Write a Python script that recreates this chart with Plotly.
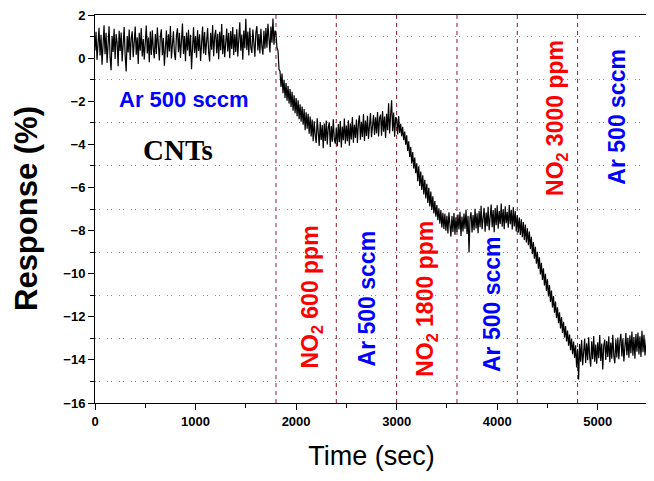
"""CNT gas sensor response to NO2 pulses in Ar carrier (recreated with Plotly)."""

import plotly.graph_objects as go

SAMPLE_STEP = 10  # sec between samples

# Response (%), one value per 10 sec, grouped by gas phase
AR_BASELINE = [
    0.35, 1.22, -0.08, 0.94, 1.41, 0.12, 1.08, -0.31, 0.77, 1.52,
    0.18, 1.17, -0.22, 0.63, 1.48, 0.05, -0.56, 1.03, 0.29, 1.36,
    -0.04, 1.11, 0.72, -0.38, 1.27, 0.33, 1.19, -0.15, 0.86, 1.44,
    0.11, -0.62, 1.02, 0.26, 1.33, -0.09, 0.91, 1.24, 0.04, 1.09,
    1.46, 0.16, 0.97, -0.27, 1.18, 0.34, 1.39, 0.08, 0.88, -0.06,
    1.07, 1.51, 0.21, 0.95, -0.19, 1.23, 0.14, 1.29, 0.42, -0.01,
    1.12, 0.19, 1.42, 0.48, -0.11, 1.01, 1.34, 0.13, 0.93, -0.35,
    0.87, 1.28, 0.03, 1.11, 0.31, 1.49, -0.02, 0.98, 1.25, 0.22,
    -0.09, 1.06, 1.38, 0.27, 1.17, 0.01, 0.92, 1.61, 0.19, 1.02,
    -0.14, 1.19, 0.36, 1.32, 0.09, 1.08, -0.52, 0.87, 1.43, 0.24,
    1.03, 0.02, 1.29, 0.33, 1.11, -0.13, 0.96, 1.47, 0.21, 1.21,
    0.14, 1.06, 1.39, 0.29, -0.16, 1.17, 0.39, 1.52, 0.09, 0.99,
    1.31, 0.23, 1.13, -0.05, 1.22, 0.36, 1.58, 0.18, 1.07, 0.04,
    0.96, 1.37, 0.31, 1.18, -0.01, 1.26, 0.42, 1.44, 0.15, 1.11,
    0.29, 1.34, 0.08, 1.21, 1.66, 0.34, 1.09, -0.07, 1.28, 0.46,
    1.82, 0.38, 1.23, 0.12, 1.41, 0.49, 0.24, 1.33, 0.59, 0.06,
    1.19, 1.48, 0.35, 1.12, 0.21, 1.36, 0.53, 0.16, 1.27, 0.43,
    1.39, 0.48, 1.59, 0.59, 0.26, 1.46, 0.71, 1.84, 0.62, 1.28,
]
NO2_600 = [
    1.12, 0.48, 0.36, -0.52, -0.61, -1.34, -0.71, -1.63, -1.01, -1.85,
    -1.16, -1.98, -1.29, -2.11, -1.43, -2.27, -1.56, -2.44, -1.72, -2.56,
    -1.85, -2.69, -1.96, -2.84, -2.14, -2.95, -2.25, -3.09, -2.36, -3.34,
    -2.51, -3.28, -2.58, -3.51, -2.71, -3.64, -2.85, -3.85, -2.93, -3.58,
    -3.94, -2.79, -3.69, -4.07, -2.96, -3.80, -3.10, -4.18, -3.03, -3.84,
    -2.89, -4.01, -3.21, -2.98, -4.12, -3.15, -3.88, -2.84, -3.75, -3.97,
]
AR_PURGE_1 = [
    -3.25, -4.09, -3.06, -3.90, -2.92, -4.15, -3.18, -3.81, -2.80, -3.97,
    -3.13, -3.85, -2.88, -4.06, -3.04, -3.77, -2.73, -3.92, -3.09, -3.70,
    -2.85, -3.94, -3.01, -2.66, -3.79, -2.95, -3.66, -2.59, -3.84, -2.90,
    -3.61, -2.68, -3.75, -2.83, -2.55, -3.67, -2.94, -2.64, -3.56, -2.75,
    -3.49, -2.50, -3.64, -2.79, -2.62, -3.60, -2.46, -3.42, -2.71, -3.71,
    -2.58, -3.35, -2.09, -3.50, -2.65, -1.96, -3.39, -2.53, -3.65, -2.74,
]
NO2_1800 = [
    -2.82, -3.54, -2.69, -3.47, -3.05, -3.62, -3.19, -3.81, -3.41, -4.02,
    -3.58, -4.31, -3.86, -4.58, -4.12, -4.89, -4.36, -5.12, -4.61, -5.34,
    -4.88, -5.71, -5.02, -5.93, -5.26, -6.12, -5.44, -6.33, -5.65, -6.51,
    -5.83, -6.72, -6.02, -6.88, -6.19, -7.05, -6.41, -7.21, -6.63, -7.36,
    -6.82, -7.52, -6.97, -7.68, -7.05, -7.86, -7.18, -7.93, -7.22, -8.01,
    -7.31, -8.14, -7.15, -7.97, -8.28, -7.33, -8.06, -7.19, -8.19, -7.38,
]
AR_PURGE_2 = [
    -8.07, -7.26, -7.95, -7.13, -8.25, -7.35, -8.04, -7.21, -7.92, -7.04,
    -8.16, -7.32, -9.02, -7.41, -7.15, -8.09, -7.28, -7.98, -6.99, -7.90,
    -7.20, -8.12, -7.08, -7.85, -6.85, -7.94, -7.23, -6.95, -8.05, -7.16,
    -7.80, -6.90, -7.99, -7.11, -6.79, -7.84, -7.05, -8.08, -6.96, -7.75,
    -6.83, -7.91, -7.09, -7.70, -6.75, -7.82, -7.01, -7.94, -6.88, -7.66,
    -7.13, -7.87, -6.82, -7.71, -7.04, -7.95, -6.92, -7.81, -7.10, -8.04,
]
NO2_3000 = [
    -7.29, -8.09, -7.40, -8.20, -7.48, -8.31, -7.61, -8.44, -7.72, -8.55,
    -7.89, -8.68, -8.05, -8.86, -8.29, -9.10, -8.53, -9.31, -8.75, -9.54,
    -8.99, -9.77, -9.24, -10.04, -9.50, -10.29, -9.75, -10.55, -10.01, -10.80,
    -10.26, -11.06, -10.53, -11.31, -10.78, -11.57, -11.04, -11.81, -11.29, -12.06,
    -11.56, -12.30, -11.79, -12.54, -12.01, -12.75, -12.23, -12.96, -12.43, -13.15,
    -12.64, -13.34, -12.82, -13.55, -13.01, -13.74, -13.15, -13.91, -13.32, -14.35,
]
AR_PURGE_3 = [
    -13.49, -14.91, -13.26, -14.08, -13.08, -14.25, -13.35, -13.01, -14.14, -13.23,
    -14.02, -12.95, -13.86, -14.31, -13.14, -13.97, -12.89, -14.09, -13.29, -14.18,
    -13.18, -13.92, -12.85, -14.05, -13.24, -14.44, -13.33, -13.06, -14.00, -13.12,
    -13.86, -12.91, -14.11, -13.19, -13.94, -12.83, -13.81, -14.16, -13.04, -13.89,
    -12.96, -13.97, -13.15, -12.79, -13.84, -13.01, -14.07, -13.10, -12.75, -13.78,
    -12.98, -13.90, -12.86, -13.69, -12.68, -13.81, -12.94, -13.95, -12.80, -13.62,
    -12.73, -13.75, -12.91, -13.86, -12.65, -13.64, -12.84, -13.79, -12.99, -12.71,
    -13.08,
]

SWITCH_TIMES = [1800, 2400, 3000, 3600, 4200, 4800]  # gas switched (sec)

# vertical phase labels: (text, time, response, colour)
PHASE_LABELS = [
    ("NO<sub>2</sub> 600 ppm", 2150, -11.1, "#ff0000"),
    ("Ar 500 sccm", 2705, -11.15, "#0000ff"),
    ("NO<sub>2</sub> 1800 ppm", 3295, -11.15, "#ff0000"),
    ("Ar 500 sccm", 3950, -11.4, "#0000ff"),
    ("NO<sub>2</sub> 3000 ppm", 4590, -2.8, "#ff0000"),
    ("Ar 500 sccm", 5195, -2.7, "#0000ff"),
]

response = (
    AR_BASELINE + NO2_600 + AR_PURGE_1 + NO2_1800
    + AR_PURGE_2 + NO2_3000 + AR_PURGE_3
)
time = [i * SAMPLE_STEP for i in range(len(response))]

SANS = "Liberation Sans, Arial, sans-serif"

fig = go.Figure()
fig.add_trace(
    go.Scatter(
        x=time,
        y=response,
        mode="lines",
        line={"color": "black", "width": 1.2},
        showlegend=False,
    )
)

for t in SWITCH_TIMES:
    fig.add_vline(
        x=t, line_color="#8e1a30", line_width=1, line_dash="4px,4px", layer="below"
    )

for text, x, y, color in PHASE_LABELS:
    fig.add_annotation(
        x=x, y=y, text=text, textangle=-90, showarrow=False,
        font={"family": SANS, "size": 23, "color": color, "weight": "bold"},
    )

fig.add_annotation(
    x=885, y=-1.94, text="Ar 500 sccm", showarrow=False,
    font={"family": SANS, "size": 22, "color": "#0000ff", "weight": "bold"},
)
fig.add_annotation(
    x=826, y=-4.26, text="CNTs", showarrow=False,
    font={"family": "Liberation Serif, Times New Roman, serif", "size": 29,
          "color": "black", "weight": "bold"},
)

# y axis title as an annotation so it can sit closer to the page edge
fig.add_annotation(
    xref="paper", yref="paper", x=0, y=0.5, xshift=-69, xanchor="center",
    text="Response (%)", textangle=-90, showarrow=False,
    font={"family": SANS, "size": 31, "color": "black", "weight": "bold"},
)

fig.update_xaxes(
    range=[0, 5500],
    dtick=1000,
    tick0=0,
    ticks="outside",
    ticklen=6,
    tickcolor="black",
    showgrid=False,
    zeroline=False,
    showline=True,
    linecolor="black",
    linewidth=1,
    mirror=True,
    automargin=False,
    ticklabeloverflow="allow",
    tickfont={"family": SANS, "size": 13, "color": "black", "weight": "bold"},
    minor={"dtick": 500, "ticks": "outside", "ticklen": 4, "tickcolor": "black"},
    title={"text": "Time (sec)", "font": {"family": SANS, "size": 27, "color": "black"},
           "standoff": 18},
)
fig.update_yaxes(
    range=[-16, 2],
    dtick=2,
    tick0=0,
    ticks="outside",
    ticklen=6,
    tickcolor="black",
    showgrid=False,
    zeroline=False,
    showline=True,
    linecolor="black",
    linewidth=1,
    mirror=True,
    automargin=False,
    ticklabeloverflow="allow",
    tickfont={"family": SANS, "size": 13, "color": "black", "weight": "bold"},
    minor={
        "dtick": 1, "ticks": "outside", "ticklen": 4, "tickcolor": "black",
        "showgrid": True, "gridcolor": "#a08080", "gridwidth": 1,
        "griddash": "1px,3px,1px,7px",
    },
)

# the page body adds an 8 px offset, so margins are trimmed to match
fig.update_layout(
    width=654,
    height=481,
    margin={"l": 87, "r": 14, "t": 7, "b": 86},
    plot_bgcolor="white",
    paper_bgcolor="white",
)

fig.write_html("out.html")
